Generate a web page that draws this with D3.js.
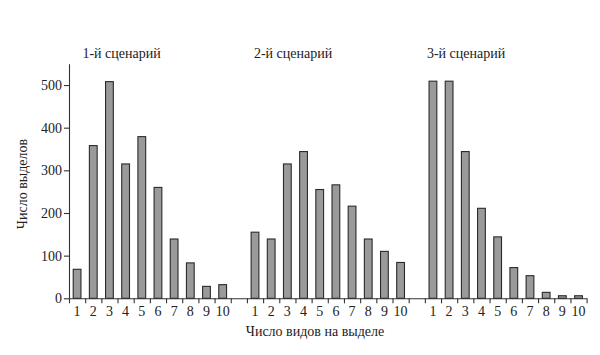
<!DOCTYPE html>
<html>
<head>
<meta charset="utf-8">
<script src="https://cdn.jsdelivr.net/npm/d3@7"></script>
<style>
  html, body { margin: 0; padding: 0; background: #fff; }
  svg { display: block; }
</style>
</head>
<body>
<svg id="chart" width="600" height="355"></svg>
<script>
// ---- data ----
const categories = ["1", "2", "3", "4", "5", "6", "7", "8", "9", "10"];
const scenarioTitles = ["1-й сценарий", "2-й сценарий", "3-й сценарий"];
const scenario1 = [68, 358, 508, 315, 379, 260, 139, 83, 28, 32];
const scenario2 = [155, 139, 315, 344, 255, 266, 216, 139, 110, 84];
const scenario3 = [509, 509, 344, 211, 144, 72, 53, 14, 6, 6];
const yTicks = [0, 100, 200, 300, 400, 500];
const yMax = 550;
const xTitle = "Число видов на выделе";
const yTitle = "Число выделов";

// ---- layout ----
const svg = d3.select("#chart");
const mLeft = 69, mRight = 586.6, mTop = 63.7, mBottom = 298.3;
const series = [scenario1, scenario2, scenario3];
const perGroup = categories.length + 1;
const nSlots = series.length * perGroup - 1;
const slots = d3.range(nSlots);
const FONT = "Liberation Serif";

const xLin = d3.scaleLinear().domain([0, nSlots]).range([mLeft, mRight]);
const xBand = d3.scaleBand().domain(slots).range([mLeft, mRight])
  .paddingInner(0.52).paddingOuter(0.26);
const y = d3.scaleLinear().domain([0, yMax]).range([mBottom, mTop]);

const bars = [];
series.forEach((vals, s) => vals.forEach((v, i) => bars.push({slot: s * perGroup + i, v, label: categories[i]})));

svg.append("g").selectAll("rect").data(bars).join("rect")
  .attr("x", d => xBand(d.slot))
  .attr("width", xBand.bandwidth())
  .attr("y", d => y(d.v))
  .attr("height", d => y(0) - y(d.v))
  .attr("fill", "#9a9a9a")
  .attr("stroke", "#2a2a2a")
  .attr("stroke-width", 1.1);

const yAxis = svg.append("g").attr("transform", `translate(${mLeft},0)`)
  .call(d3.axisLeft(y).tickValues(yTicks).tickSize(5).tickSizeOuter(0).tickPadding(2));
yAxis.attr("font-family", FONT).attr("font-size", 14);
yAxis.selectAll("text").attr("fill", "#222");
yAxis.selectAll("line,path").attr("stroke", "#333").attr("stroke-width", 1.1);

const xAxis = svg.append("g").attr("transform", `translate(0,${mBottom})`)
  .call(d3.axisBottom(xLin).tickValues(d3.range(nSlots + 1)).tickFormat("").tickSize(5).tickSizeOuter(0));
xAxis.selectAll("line,path").attr("stroke", "#333").attr("stroke-width", 1.1);

const labelMap = new Map(bars.map(d => [d.slot, d.label]));
const xLab = svg.append("g").attr("transform", `translate(0,${mBottom})`)
  .call(d3.axisBottom(xBand).tickValues(bars.map(d => d.slot)).tickFormat(d => labelMap.get(d)).tickSize(0).tickPadding(8));
xLab.attr("font-family", FONT).attr("font-size", 14);
xLab.select(".domain").remove();
xLab.selectAll("text").attr("fill", "#222");

const titleOffsets = [3.25, 2.85, 2.55];
svg.append("g").attr("font-family", FONT).attr("font-size", 14).attr("fill", "#222")
  .selectAll("text").data(scenarioTitles).join("text")
  .attr("x", (d, s) => xLin(s * perGroup + titleOffsets[s]))
  .attr("y", 58)
  .attr("text-anchor", "middle")
  .text(d => d);

const titles = svg.append("g").attr("font-family", FONT).attr("font-size", 14).attr("fill", "#222");
titles.append("text").attr("x", 315).attr("y", 336).attr("text-anchor", "middle").text(xTitle);
titles.append("text").attr("transform", "translate(27,184) rotate(-90)").attr("text-anchor", "middle").text(yTitle);
</script>
</body>
</html>
